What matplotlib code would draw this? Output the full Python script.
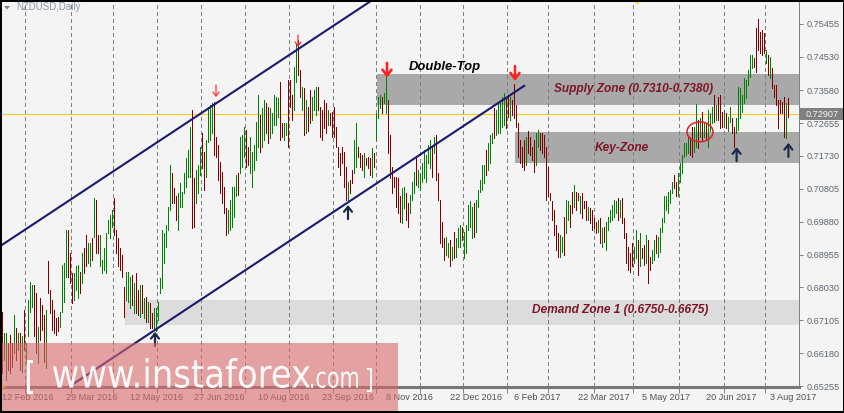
import numpy as np
import matplotlib
matplotlib.use("Agg")
import matplotlib.pyplot as plt
from matplotlib.patches import Rectangle, Ellipse, PathPatch, Polygon
from matplotlib.textpath import TextPath
from matplotlib.font_manager import FontProperties
from matplotlib.transforms import blended_transform_factory, Affine2D, IdentityTransform

# ---------------- data ----------------
symbol_title = "NZDUSD,Daily"

# daily bar highs / lows in pips (1 pip = 0.0001)
highs_pips = [
    6735, 6674, 6676, 6646, 6669, 6646, 6726, 6688, 6674, 6674,
    6665, 6740, 6646, 6768, 6819, 6810, 6810, 6787, 6693, 6773,
    6754, 6726, 6740, 6876, 6796, 6768, 6740, 6716, 6721, 6735,
    6866, 6871, 6965, 6965, 6899, 6843, 6843, 6862, 6866, 6847,
    6899, 6913, 6951, 6927, 6927, 6941, 7054, 7049, 6951, 6951,
    6880, 6913, 6955, 6993, 7007, 7021, 7054, 6965, 6941, 6913,
    6894, 6805, 6847, 6847, 6833, 6838, 6815, 6843, 6796, 6810,
    6810, 6773, 6777, 6763, 6758, 6730, 6744, 6744, 6763, 6829,
    6965, 6955, 6979, 7030, 7148, 7124, 7082, 7059, 7068, 7096,
    7073, 7124, 7166, 7190, 7256, 7302, 7110, 7134, 7148,
    7199, 7237, 7185, 7218, 7312, 7317, 7321, 7326, 7227, 7204,
    7157, 7129, 7087, 7026, 7021, 7049, 7087, 7087, 7120, 7124,
    7227, 7232, 7256, 7246, 7199, 7227, 7185, 7204, 7270, 7345,
    7288, 7307, 7331, 7321, 7312, 7307, 7293, 7345, 7340, 7335,
    7382, 7265, 7265, 7265, 7387, 7387, 7345, 7424, 7490, 7499,
    7415, 7368, 7363, 7331, 7312, 7359, 7340, 7359, 7368, 7368,
    7312, 7302, 7331, 7321, 7302, 7293, 7298, 7312, 7256, 7199,
    7181, 7199, 7185, 7143, 7101, 7105, 7134, 7218, 7265, 7199,
    7181, 7176, 7181, 7166, 7171, 7166, 7195, 7181, 7293, 7340,
    7345, 7340, 7349, 7401, 7331, 7232, 7143, 7115, 7115, 7110,
    7059, 7082, 7087, 7068, 7040, 7063, 7101, 7129, 7171, 7134,
    7124, 7152, 7190, 7176, 7204, 7218, 7199, 7227, 7232, 7124,
    7049, 6988, 6941, 6946, 6927, 6937, 6918, 6960, 6941, 6969,
    6979, 6974, 6960, 6979, 7035, 7045, 7030, 7040, 7049, 7077,
    7105, 7148, 7148, 7190, 7209, 7232, 7237, 7307, 7302, 7326,
    7321, 7340, 7349, 7335, 7345, 7340, 7331, 7376, 7317, 7265,
    7218, 7199, 7218, 7227, 7242, 7227, 7199, 7218, 7237, 7246,
    7237, 7237, 7232, 7199, 7143, 7068, 7045, 7021, 6979, 6955,
    6951, 6946, 7002, 7049, 7045, 7035, 7073, 7091, 7073, 7068,
    7059, 7068, 7045, 7045, 7030, 7026, 7021, 6998, 6988, 6993,
    6998, 6969, 6974, 6988, 7002, 7021, 7035, 7049, 7045, 7054,
    7049, 7054, 6998, 6955, 6918, 6899, 6927, 6918, 6965, 6937,
    6955, 6913, 6923, 6951, 6937, 6890, 6909, 6937, 6951, 6946,
    6969, 6998, 7059, 7059, 7073, 7077, 7101, 7120, 7101, 7124,
    7152, 7176, 7209, 7209, 7227, 7227, 7256, 7256, 7319, 7274,
    7279, 7298, 7270, 7265, 7302, 7293, 7312, 7345, 7317, 7340,
    7345, 7298, 7302, 7293, 7284, 7312, 7279, 7256, 7279, 7368,
    7363, 7345, 7392, 7387, 7415, 7457, 7457, 7448, 7532, 7560,
    7523, 7528, 7518, 7471, 7457, 7453, 7420, 7373, 7373, 7331,
    7331, 7326, 7340, 7321, 7335,
]
lows_pips = [
    6561, 6599, 6543, 6571, 6561, 6580, 6618, 6599, 6627, 6571,
    6566, 6627, 6590, 6665, 6735, 6749, 6665, 6618, 6590, 6655,
    6683, 6594, 6576, 6787, 6730, 6683, 6674, 6669, 6679, 6693,
    6735, 6763, 6833, 6833, 6815, 6758, 6768, 6796, 6773, 6787,
    6815, 6843, 6862, 6871, 6862, 6880, 6946, 6899, 6899, 6862,
    6843, 6852, 6843, 6955, 6941, 6974, 6951, 6899, 6862, 6852,
    6833, 6721, 6768, 6763, 6744, 6754, 6730, 6730, 6726, 6721,
    6730, 6716, 6707, 6707, 6688, 6688, 6688, 6679, 6712, 6787,
    6801, 6871, 6918, 6965, 7021, 7040, 7040, 6993, 6965, 7030,
    7030, 7068, 7087, 7115, 7115, 6969, 6974, 7040, 7068,
    7120, 7138, 7077, 7115, 7213, 7218, 7237, 7176, 7171, 7105,
    7068, 7040, 7012, 6951, 6955, 6965, 6974, 7002, 7059, 7063,
    7124, 7143, 7171, 7143, 7148, 7124, 7087, 7134, 7162, 7199,
    7185, 7199, 7218, 7237, 7209, 7223, 7237, 7260, 7260, 7284,
    7218, 7227, 7218, 7232, 7199, 7312, 7274, 7302, 7382, 7401,
    7340, 7302, 7232, 7237, 7242, 7265, 7274, 7302, 7288, 7302,
    7227, 7218, 7251, 7237, 7260, 7260, 7227, 7227, 7199, 7143,
    7120, 7152, 7087, 7049, 7045, 7068, 7096, 7124, 7143, 7171,
    7143, 7134, 7115, 7148, 7138, 7120, 7115, 7143, 7218, 7279,
    7307, 7293, 7321, 7293, 7181, 7110, 7068, 7087, 7030, 7012,
    6988, 6984, 7026, 6993, 6974, 7012, 7049, 7068, 7091, 7087,
    7077, 7101, 7110, 7101, 7152, 7138, 7115, 7181, 7105, 7049,
    6927, 6918, 6880, 6894, 6890, 6862, 6880, 6885, 6890, 6918,
    6918, 6937, 6885, 6899, 6965, 6974, 6941, 6946, 6960, 7030,
    7073, 7077, 7096, 7120, 7134, 7152, 7209, 7223, 7232, 7237,
    7237, 7256, 7260, 7251, 7284, 7274, 7288, 7279, 7256, 7171,
    7152, 7143, 7134, 7148, 7181, 7176, 7162, 7129, 7148, 7199,
    7190, 7181, 7171, 7049, 7059, 7049, 6993, 6951, 6909, 6890,
    6890, 6904, 6894, 6955, 6993, 6974, 7012, 7030, 7021, 7049,
    7012, 6998, 7026, 6993, 6993, 6984, 6965, 6969, 6955, 6960,
    6927, 6918, 6932, 6909, 6965, 6988, 6993, 7002, 7012, 6993,
    7002, 6984, 6941, 6871, 6852, 6847, 6862, 6871, 6885, 6838,
    6862, 6885, 6866, 6871, 6815, 6852, 6871, 6880, 6899, 6890,
    6904, 6960, 6988, 7021, 7012, 7040, 7068, 7082, 7059, 7059,
    7101, 7124, 7171, 7176, 7181, 7176, 7171, 7185, 7199, 7195,
    7227, 7218, 7227, 7218, 7199, 7242, 7265, 7270, 7274, 7274,
    7251, 7256, 7256, 7251, 7242, 7270, 7237, 7199, 7237, 7246,
    7279, 7298, 7321, 7335, 7373, 7396, 7420, 7424, 7410, 7471,
    7462, 7457, 7462, 7434, 7401, 7392, 7363, 7340, 7317, 7251,
    7293, 7293, 7227, 7223, 7284,
]
# g = up bar (green), r = down bar (dark red)
bar_dirs = (
    "rggrrrgrgr" "grggggrrgr" "rrgrrrrrrg" "gggrrrgggr" "grrggrgrrg"
    "ggggggrrrr" "rrgggrgrrg" "rgrgrrgggg" "gggggrrrgg" "gggggrrgg"
    "grrggggrrr" "rrrrgggggr" "gggrrggggg" "rggrrggggg" "rrggrrrggr"
    "rgrgrrgggr" "rrrrgrrrrr" "rrrrgrrggr" "rrgrrrgrgg" "grggrrrrrr"
    "rggrrgggrg" "ggggggrgrr" "rrrggrgrgg" "grgggggrgg" "gggrgggrgg"
    "gggrrgrrrr" "rrrgrrrrgg" "rrrrrrrrrr" "ggrggrrgrr" "grrrgrrrrg"
    "rgrggggggr" "grrrrrrggr" "grrgrrggrg" "gggggggrrg" "gggggrrggr"
    "grgrgggrgr" "rrgrggrrgg" "gggggggrrr" "rrrgrgrrrr" "rrrgr"
)

date_labels = ["12 Feb 2016", "29 Mar 2016", "12 May 2016", "27 Jun 2016",
               "10 Aug 2016", "23 Sep 2016", "8 Nov 2016", "22 Dec 2016",
               "6 Feb 2017", "22 Mar 2017", "5 May 2017", "20 Jun 2017",
               "3 Aug 2017"]
date_label_bars = [0, 32, 64, 96, 128, 160, 192, 224, 256, 288, 320, 352, 384]
price_ticks = [0.75455, 0.74530, 0.73580, 0.72655, 0.71730, 0.70805,
               0.69880, 0.68955, 0.68030, 0.67105, 0.66180, 0.65255]
current_price = 0.72907

zone_labels = ["Supply Zone (0.7310-0.7380)", "Key-Zone", "Demand Zone 1 (0.6750-0.6675)"]
zone_low = [0.7317, 0.7153, 0.6697]
zone_high = [0.7404, 0.7241, 0.6768]
zone_start_bar = [187.5, 256.5, 61.5]
zone_label_bar = [316, 310, 309]
zone_label_price = [0.7362, 0.7196, 0.6739]

channel_upper_bars = [-1, 190]
channel_upper_prices = [0.6919, 0.7630]
channel_lower_bars = [20, 261.5]
channel_lower_prices = [0.6473, 0.7372]

small_down_arrow_bars = [107, 148]
small_down_arrow_prices = [0.7339, 0.7480]
big_down_arrow_bars = [192.5, 256.5]
big_down_arrow_prices = [0.7393, 0.7384]
up_arrow_bars = [76.5, 173, 367.3, 393.2]
up_arrow_prices = [0.6678, 0.7035, 0.7198, 0.7210]

pattern_label = "Double-Top"
pattern_label_bar = 221.5
pattern_label_price = 0.7424

circle_bar, circle_price = 349, 0.7241

grid_bars = [11.5, 34.5, 55.5, 77.5, 99.5, 121.5, 143.5, 165.5, 187, 209,
             230.5, 252.5, 273, 296, 315.5, 338.5, 361, 381.5]

# ---------------- figure ----------------
W, H = 845, 413
BG = "#f4f4f4"
plt.rcParams["font.family"] = ["Liberation Sans", "DejaVu Sans"]

fig = plt.figure(figsize=(W / 100, H / 100), dpi=100, facecolor=BG)
ax = fig.add_axes([1 / W, 26 / H, 798 / W, 386 / H])
ax.set_facecolor(BG)
ax.set_xlim(-0.5, 398.5)
ax.set_ylim(0.65227, 0.76093)

highs = np.array(highs_pips) / 10000.0
lows = np.array(lows_pips) / 10000.0
n = min(len(highs), len(lows), len(bar_dirs))
xs = np.arange(n)
cols = ["#008000" if c == "g" else "#800000" for c in bar_dirs[:n]]

# zones
for lo, hi, sb in zip(zone_low, zone_high, zone_start_bar):
    ax.add_patch(Rectangle((sb, lo), 400 - sb, hi - lo,
                           facecolor="#dcdcdc" if lo < 0.69 else "#a9a9a9",
                           edgecolor="none", zorder=0.5))

# grid
ax.vlines(grid_bars, 0.6, 0.8, colors="#808080", linewidth=0.72,
          linestyles=(0, (3, 3)), zorder=0.8, antialiased=False)

# current price line
ax.axhline(current_price, color="#ffcc00", lw=0.72, zorder=1)

# bars
ax.vlines(xs, lows[:n], highs[:n], colors=cols, linewidth=0.72,
          antialiased=False, zorder=2)

# channel
ax.plot(channel_upper_bars, channel_upper_prices, color="#191970", lw=1.5, zorder=3,
        solid_capstyle="butt")
ax.plot(channel_lower_bars, channel_lower_prices, color="#191970", lw=1.5, zorder=3,
        solid_capstyle="butt")

# texts
for lab, b, p in zip(zone_labels, zone_label_bar, zone_label_price):
    ax.text(b, p, lab, ha="center", va="center", fontsize=8.6, style="italic",
            fontweight="bold", color="#7d1528", zorder=5)
ax.text(pattern_label_bar, pattern_label_price, pattern_label, ha="center", va="center",
        fontsize=9.4, style="italic", fontweight="bold", color="black", zorder=5)

# ellipse
ax.add_patch(Ellipse((circle_bar, circle_price), 13, 0.0056, fill=False,
                     edgecolor="#e42020", lw=1.1, zorder=5))


def arrow(bar, price, down, length_px, color, lw_px, hl_px, hw_px):
    sign = 1 if down else -1
    ax.annotate("", xy=(bar, price), xytext=(0, sign * length_px * 0.72),
                textcoords="offset points", annotation_clip=False,
                arrowprops=dict(arrowstyle=f"->,head_length={hl_px * 0.072},head_width={hw_px * 0.072}",
                                color=color, lw=lw_px * 0.72, shrinkA=0, shrinkB=0,
                                mutation_scale=10), zorder=6)


for b, p in zip(small_down_arrow_bars, small_down_arrow_prices):
    arrow(b, p, True, 12, "#ff2a2a", 1.2, 4, 3)
for b, p in zip(big_down_arrow_bars, big_down_arrow_prices):
    arrow(b, p, True, 15, "#ff2020", 2.6, 6, 4.5)
for b, p in zip(up_arrow_bars, up_arrow_prices):
    arrow(b, p, False, 14, "#1c2a4a", 2.2, 5, 4)

# axes styling
for s in ["top", "left"]:
    ax.spines[s].set_visible(False)
ax.spines["right"].set_color("#808080")
ax.spines["right"].set_linewidth(0.72)
ax.spines["bottom"].set_color("#787878")
ax.spines["bottom"].set_linewidth(2.2)

ax.yaxis.tick_right()
ax.set_yticks(price_ticks)
ax.set_yticklabels([f"{v:.5f}" for v in price_ticks])
ax.tick_params(axis="y", direction="out", length=2.9, width=0.72, color="#808080",
               pad=2.9, labelsize=6.6, labelcolor="#5c6670")
ax.set_xticks(grid_bars)
ax.set_xticklabels([])
ax.tick_params(axis="x", direction="out", length=4.3, width=0.72, color="#808080")

tr_x = blended_transform_factory(ax.transData, ax.transAxes)
for b, lab in zip(date_label_bars, date_labels):
    ax.text(b, -10.5 / 386, lab, transform=tr_x, ha="left", va="center",
            fontsize=6.6, color="#505050", clip_on=False)

# current price box
tr_y = blended_transform_factory(ax.transAxes, ax.transData)
ax.add_patch(Rectangle((799 / 798, current_price - 0.0017), 43 / 798, 0.0034,
                       transform=tr_y, facecolor="#808080", edgecolor="none",
                       clip_on=False, zorder=7))
ax.text(805 / 798, current_price, f"{current_price:.5f}", transform=tr_y,
        ha="left", va="center", fontsize=6.6, color="#f4f4f4", zorder=8, clip_on=False)

# title
fig.text(16 / W, 1 - 7.5 / H, symbol_title, fontsize=7, color="#8c96a8", va="center", ha="left")


def px(x, y):
    return (x, H - y)


fig.add_artist(Polygon([px(4, 6), px(10, 6), px(7, 9.5)], closed=True,
                       transform=IdentityTransform(), facecolor="#808080",
                       edgecolor="none"))
fig.add_artist(Polygon([px(634, 1), px(641, 1), px(637.5, 4.5)], closed=True,
                       transform=IdentityTransform(), facecolor="#ffd700",
                       edgecolor="none", zorder=5))
fig.add_artist(Polygon([px(1, 382), px(1, 388), px(6, 388)], closed=True,
                       transform=IdentityTransform(), facecolor="#ffd700",
                       edgecolor="none", zorder=5))

# watermark
fig.add_artist(Rectangle((0, 0), 398, 70, transform=IdentityTransform(),
                         facecolor="#d96a6a", edgecolor="none", alpha=0.6, zorder=10))


def path_text(s, box, family="DejaVu Sans", alpha=0.95):
    x0, x1, ytop, ybot = box
    tp = TextPath((0, 0), s, size=100, prop=FontProperties(family=family))
    e = tp.get_extents()
    sx = (x1 - x0) / e.width
    sy = (ybot - ytop) / e.height
    trf = Affine2D().translate(-e.x0, -e.y0).scale(sx, sy).translate(x0, H - ybot)
    fig.add_artist(PathPatch(trf.transform_path(tp), transform=IdentityTransform(),
                             facecolor="white", edgecolor="none", alpha=alpha, zorder=12))


path_text("www.instaforex", (53, 310, 358, 388))
path_text(".com", (311, 358, 371.5, 388))
path_text("[", (27, 33, 360, 394))
path_text("]", (367, 372, 368, 392))

# outer frame
fig.add_artist(Rectangle((1, 1), W - 2, H - 2, transform=IdentityTransform(),
                         fill=False, edgecolor="black", lw=1.44, zorder=20))

fig.savefig("out.png", dpi=100, facecolor=BG)
